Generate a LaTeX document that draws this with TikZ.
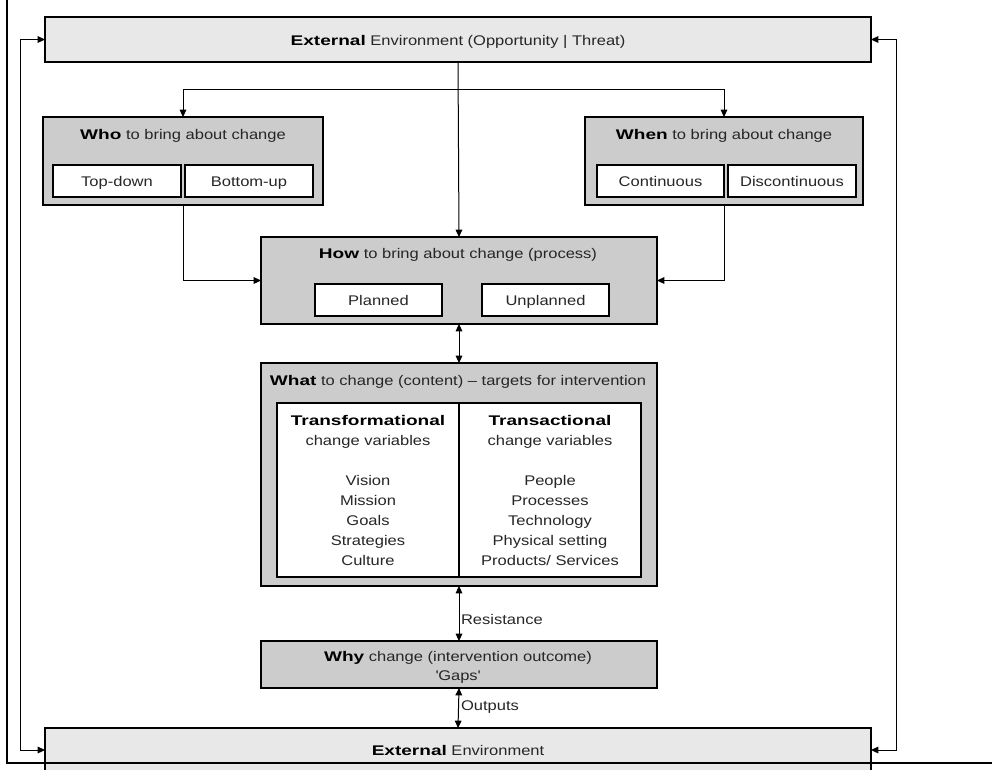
\documentclass[tikz,border=0pt]{standalone}
\usepackage{fontspec}
\setmainfont{Liberation Sans}[FakeStretch=1.18]
\newfontfamily\bfx{Liberation Sans}[FakeStretch=1.36]
\newcommand{\bw}[1]{{\bfx\bfseries\color{black} #1}}
\usetikzlibrary{arrows.meta}
\newdimen\pxu \pxu=0.75pt
\definecolor{envgray}{HTML}{E8E8E8}
\definecolor{panelgray}{HTML}{CCCCCC}
\definecolor{txtgray}{HTML}{262626}
\begin{document}
\begin{tikzpicture}[x=0.75pt,y=-0.75pt,
  box/.style={draw=black, line width=0.8pt, inner sep=0pt, outer sep=0pt, anchor=north west,
    font=\fontsize{10.5pt}{12.5pt}\selectfont, text height=7.5pt, text depth=0pt, text=txtgray},
  envbox/.style={box, fill=envgray},
  panel/.style={box, fill=panelgray},
  inbox/.style={box, fill=white},
  txt/.style={inner sep=0pt, outer sep=0pt, font=\fontsize{10.5pt}{12.5pt}\selectfont, text height=7.5pt, text depth=0pt, text=txtgray},
  conn/.style={line width=0.75pt, -{Triangle[length=5.5pt,width=5pt]}},
  both/.style={line width=0.75pt, {Triangle[length=5.5pt,width=5pt]}-{Triangle[length=5.5pt,width=5pt]}},
  frame/.style={line width=0.8pt}
]
\useasboundingbox (0,0) rectangle (992,769);

% environment boxes
\node[envbox, minimum width=826\pxu, minimum height=45\pxu] (top) at (45,17) {};
\node[txt] (toptxt) at (458,40) {\bw{External} Environment (Opportunity | Threat)};
\node[envbox, minimum width=826\pxu, minimum height=44\pxu] (bot) at (45,728) {};
\node[txt] (bottxt) at (458,750) {\bw{External} Environment};

% frame
\draw[frame] (7,0) -- (7,763) -- (992,763);

% who
\node[panel, minimum width=280\pxu, minimum height=88\pxu] (who) at (43,117) {};
\node[txt] (whot) at (183,134) {\bw{Who} to bring about change};
\node[inbox, minimum width=128\pxu, minimum height=32\pxu] (td) at (53,165) {Top-down};
\node[inbox, minimum width=128\pxu, minimum height=32\pxu] (bu) at (185,165) {Bottom-up};

% when
\node[panel, minimum width=278\pxu, minimum height=88\pxu] (when) at (585,117) {};
\node[txt] (whent) at (724,134) {\bw{When} to bring about change};
\node[inbox, minimum width=127\pxu, minimum height=32\pxu] (co) at (597,165) {Continuous};
\node[inbox, minimum width=128\pxu, minimum height=32\pxu] (dc) at (728,165) {Discontinuous};

% how
\node[panel, minimum width=396\pxu, minimum height=87\pxu] (how) at (261,237) {};
\node[txt] (howt) at (458,253) {\bw{How} to bring about change (process)};
\node[inbox, minimum width=127\pxu, minimum height=32\pxu] (pl) at (315,284) {Planned};
\node[inbox, minimum width=127\pxu, minimum height=32\pxu] (up) at (482,284) {Unplanned};

% what
\node[panel, minimum width=396\pxu, minimum height=223\pxu] (what) at (261,363) {};
\node[txt] (whatt) at (458,380) {\bw{What} to change (content) -- targets for intervention};
\node[inbox, minimum width=364\pxu, minimum height=174\pxu] (inner) at (277,403) {};
\draw[line width=0.8pt] (inner.north) -- (inner.south);
\node[txt] (lh1) at (368,420) {\bw{Transformational}};
\node[txt] (lh2) at (368,440) {change variables};
\node[txt] (rh1) at (550,420) {\bw{Transactional}};
\node[txt] (rh2) at (550,440) {change variables};
\foreach \t [count=\i] in {Vision,Mission,Goals,Strategies,Culture}
  \node[txt] (l\i) at (368,460+20*\i) {\t};
\foreach \t [count=\i] in {People,Processes,Technology,Physical setting,Products/ Services}
  \node[txt] (r\i) at (550,460+20*\i) {\t};

% why
\node[panel, minimum width=396\pxu, minimum height=47\pxu] (why) at (261,641) {};
\node[txt] (why1) at (458,656) {\bw{Why} change (intervention outcome)};
\node[txt] (why2) at (458,675) {\textquotesingle Gaps\textquotesingle};

% connectors
\coordinate (j) at (458,89);
\draw[conn] (top.south) -- (how.north);
\draw[conn] (j) -| (who.north);
\draw[conn] (j) -| (when.north);
\draw[conn] (who.south) |- (how.west);
\draw[conn] (when.south) |- (how.east);
\draw[both] (how.south) -- (what.north);
\draw[both] (what.south) -- (why.north);
\draw[both] (why.south) -- (bot.north);
\node[txt, anchor=west] (res) at (461,619) {Resistance};
\node[txt, anchor=west] (out) at (461,705) {Outputs};
\draw[both] (top.west) -- ++(-25,0) |- (bot.west);
\draw[both] (top.east) -- ++(25,0) |- (bot.east);
\end{tikzpicture}
\end{document}
